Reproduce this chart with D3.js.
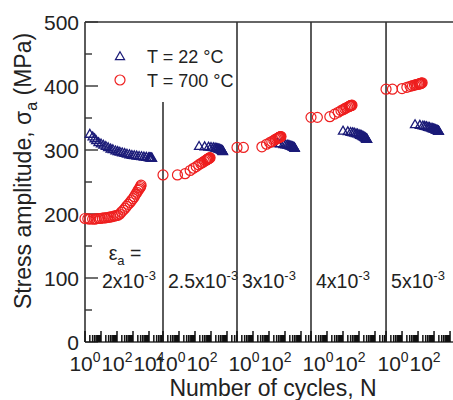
<!DOCTYPE html>
<html><head><meta charset="utf-8">
<script src="https://cdnjs.cloudflare.com/ajax/libs/d3/7.8.5/d3.min.js"></script>
<style>body{margin:0;background:#fff;} svg text{font-family:Arial,"Liberation Sans",sans-serif;fill:#222;}</style>
</head><body><svg id="c" width="453" height="400"></svg>
<script>
// ---- data ----
const strainLabels = ["2", "2.5", "3", "4", "5"];          // x10^-3
const panelDecades = [4.875, 4.625, 4.625, 4.69, 4.625];   // log10 span of each panel
const xTickExps = [[0, 2, 4], [0, 2], [0, 2], [0, 2], [0, 2]];
const yTicks = [0, 100, 200, 300, 400, 500];
const yMinorTicks = [50, 150, 250, 350, 450];
const legendLabels = ["T = 22 °C", "T = 700 °C"];

// T = 22 °C  [N, stress MPa]
const rt1 = [[2,324],[3,320],[4,317],[5,314],[7,311],[10,309],[14,307],[20,305],[28,303],[40,301],[55,300],[80,298],[110,297],[150,296],[210,295],[300,294],[420,293],[600,292],[850,291],[1200,290.5],[1700,290],[2400,289.5],[3400,289],[4800,288.5],[6800,288],[9500,287.5],[11000,287.5],[12000,287],[13000,287],[14000,287],[15500,286.5]];
const rt2 = [[180,305],[400,304.5],[700,304],[1000,303.5],[1400,303],[1800,302.5],[2200,302],[2600,301.5],[3000,301],[3400,300.5],[3800,300],[4200,299.5],[4600,299],[5000,298.5],[5200,298],[5400,297.5],[5600,297]];
const rt3 = [[350,309.5],[500,309],[800,308],[1100,307.5],[1400,307],[1700,306.5],[2000,306],[2300,305.5],[2600,305],[2900,304.5],[3200,304],[3500,303.5],[3800,303],[3950,302.5],[4100,302]];
const rt4 = [[100,329],[200,328],[300,327],[400,326.5],[500,326],[650,325],[800,324.5],[1000,323.5],[1200,322.5],[1400,322],[1600,321],[1800,320.5],[2000,320],[2200,319],[2400,318.5],[2600,318],[2800,317],[2900,316.8],[3000,316.5],[3100,316.2],[3200,316]];
const rt5 = [[65,339],[130,338],[200,337],[260,336.5],[330,336],[420,335],[520,334.5],[650,333.5],[780,333],[900,332.5],[1020,332],[1140,331.5],[1260,331],[1380,330.5],[1500,330],[1620,330],[1740,329.5],[1860,329],[1930,328.8],[2000,328.5]];

// T = 700 °C  [N, stress MPa]
const ht1 = [[1,193],[1.5,192.5],[2,192],[3,192],[4,192],[5,192.5],[7,193],[9,193],[12,193.5],[16,194],[20,194],[26,194.5],[33,195],[42,195.5],[55,196],[70,197],[90,197.5],[115,198],[150,200],[190,203],[250,206],[320,209],[400,212],[500,215],[650,218],[800,221],[1000,224],[1200,227],[1500,231],[1800,234],[2100,237],[2400,239],[2700,241],[3000,243],[3200,245]];
const ht2 = [[1,261],[8,261],[24,263],[50,268],[80,271.5],[120,274],[170,276.7],[230,278.8],[300,280.6],[380,282.3],[460,283.6],[540,284.7],[580,285.2],[620,285.7],[660,286.1],[700,286.5],[740,286.9],[780,287.3],[820,287.7],[870,288]];
const ht3 = [[1,304],[2.5,304],[36,305],[70,309],[110,311.5],[150,313],[200,315],[250,316.5],[300,317.5],[350,318.5],[400,319],[425,319.5],[450,320],[475,320.2],[500,320.5],[530,320.8],[560,321]];
const ht4 = [[1,351],[2.5,351],[15,352],[30,356],[50,359],[75,361.5],[100,363],[130,364.5],[160,366],[200,367],[240,368],[260,368.5],[280,369],[300,369.2],[320,369.5],[340,369.8],[365,370]];
const ht5 = [[1,395],[2.5,395],[10,396],[20,398],[32,399.5],[45,400.5],[60,401.5],[75,402],[90,402.5],[110,403],[120,403.2],[130,403.5],[140,403.8],[150,404],[165,404.5],[180,405]];

const rtData = [rt1, rt2, rt3, rt4, rt5];
const htData = [ht1, ht2, ht3, ht4, ht5];

// ---- layout ----
const plotLeft = 85, plotTop = 22, plotBottom = 342, pxPerDecade = 16;
const blue = "#1b1b78", red = "#ee1f1f", axisCol = "#333";
const svg = d3.select("#c");
const y = d3.scaleLinear().domain([0, 500]).range([plotBottom, plotTop]);

let cx0 = plotLeft;
const panels = panelDecades.map((dec, i) => {
  const sc = d3.scaleLog().domain([1, Math.pow(10, dec)]).range([cx0, cx0 + dec * pxPerDecade]);
  const p = {i, x0: cx0, x1: cx0 + dec * pxPerDecade, sc};
  cx0 = p.x1;
  return p;
});

const tri = d3.symbol().type(d3.symbolTriangle).size(36);

// frame
svg.append("line").attr("x1", plotLeft).attr("x2", 453).attr("y1", plotTop).attr("y2", plotTop).attr("stroke", axisCol).attr("stroke-width", 1.6);
svg.append("line").attr("x1", plotLeft).attr("x2", 453).attr("y1", plotBottom).attr("y2", plotBottom).attr("stroke", axisCol).attr("stroke-width", 1.6);
svg.append("line").attr("x1", plotLeft).attr("x2", plotLeft).attr("y1", plotTop).attr("y2", plotBottom).attr("stroke", axisCol).attr("stroke-width", 1.6);

// y ticks
yTicks.forEach(t => {
  svg.append("line").attr("x1", plotLeft).attr("x2", plotLeft + 13).attr("y1", y(t)).attr("y2", y(t)).attr("stroke", axisCol).attr("stroke-width", 1.4);
  svg.append("text").attr("x", plotLeft - 6).attr("y", y(t)).attr("dy", "0.36em").attr("text-anchor", "end")
    .attr("font-size", 21).text(t);
});
yMinorTicks.forEach(t => {
  svg.append("line").attr("x1", plotLeft).attr("x2", plotLeft + 7).attr("y1", y(t)).attr("y2", y(t)).attr("stroke", axisCol).attr("stroke-width", 1.4);
});

panels.forEach(p => {
  if (p.i > 0) {
    svg.append("line").attr("x1", p.x0).attr("x2", p.x0)
      .attr("y1", p.i === 1 ? y(375) : plotTop).attr("y2", plotBottom)
      .attr("stroke", axisCol).attr("stroke-width", 1.6);
  }
  p.sc.ticks().forEach(t => {
    const lg = Math.log10(t);
    const major = Math.abs(lg - Math.round(lg)) < 1e-9;
    svg.append("line").attr("x1", p.sc(t)).attr("x2", p.sc(t))
      .attr("y1", plotBottom).attr("y2", plotBottom - (major ? 11 : 7))
      .attr("stroke", "#111").attr("stroke-width", 1.5);
  });
  const labelShift = p.i === 0 ? 0 : 7;
  xTickExps[p.i].forEach(e => {
    const t = svg.append("text").attr("x", p.sc(Math.pow(10, e)) + labelShift).attr("y", 371)
      .attr("text-anchor", "middle").attr("font-size", 21);
    t.append("tspan").text("10");
    t.append("tspan").attr("dy", -9).attr("font-size", 14).text(e);
  });
  svg.append("g").selectAll("path").data(rtData[p.i]).join("path")
    .attr("transform", d => `translate(${p.sc(d[0])},${y(d[1])})`)
    .attr("d", tri).attr("fill", "none").attr("stroke", blue).attr("stroke-width", 1.3);
  svg.append("g").selectAll("circle").data(htData[p.i]).join("circle")
    .attr("cx", d => p.sc(d[0])).attr("cy", d => y(d[1])).attr("r", 5)
    .attr("fill", "none").attr("stroke", red).attr("stroke-width", 1.2);
  const sx = p.i === 0 ? p.x0 + 17 : p.x0 + 5;
  const st = svg.append("text").attr("x", sx).attr("y", 288).attr("font-size", 19.5);
  st.append("tspan").text(strainLabels[p.i] + "x10");
  st.append("tspan").attr("dy", -8).attr("font-size", 13).text("-3");
});

const eps = svg.append("text").attr("x", 125).attr("y", 260).attr("text-anchor", "middle").attr("font-size", 19.5);
eps.append("tspan").text("ε");
eps.append("tspan").attr("dy", 5).attr("font-size", 13).text("a");
eps.append("tspan").attr("dy", -5).text(" =");

svg.append("path").attr("transform", "translate(120,57)").attr("d", tri).attr("fill", "none").attr("stroke", blue).attr("stroke-width", 1.2);
svg.append("circle").attr("cx", 120).attr("cy", 80).attr("r", 5).attr("fill", "none").attr("stroke", red).attr("stroke-width", 1.2);
svg.append("text").attr("x", 147).attr("y", 63).attr("font-size", 18).text(legendLabels[0]);
svg.append("text").attr("x", 147).attr("y", 87).attr("font-size", 18).text(legendLabels[1]);

svg.append("text").attr("x", 273).attr("y", 396).attr("text-anchor", "middle").attr("font-size", 23).text("Number of cycles, N");
const yt = svg.append("text").attr("transform", "translate(31,171) rotate(-90)").attr("text-anchor", "middle").attr("font-size", 23);
yt.append("tspan").text("Stress amplitude, σ");
yt.append("tspan").attr("dy", 6).attr("font-size", 16).text("a");
yt.append("tspan").attr("dy", -6).text(" (MPa)");
</script></body></html>
